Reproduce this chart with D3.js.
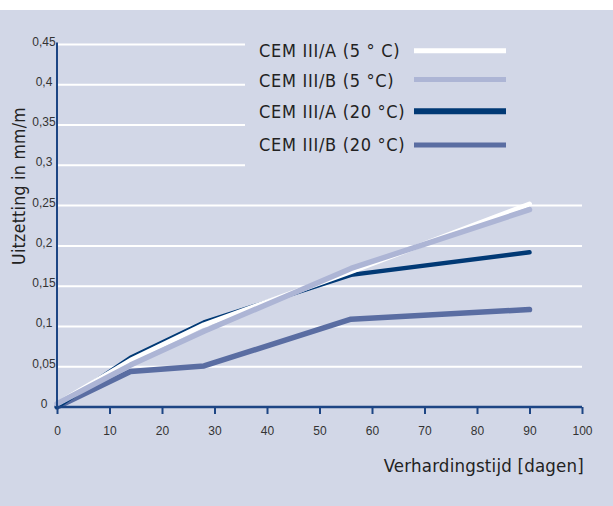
<!DOCTYPE html>
<html><head><meta charset="utf-8">
<script src="https://cdn.jsdelivr.net/npm/d3@7/dist/d3.min.js"></script>
<style>
html,body{margin:0;padding:0;background:#fff;}
svg{display:block;}
</style></head>
<body>
<script>
// ---- data ----
const days = [0, 14, 28, 56, 90];
const seriesNames = ["CEM III/A (5 ° C)", "CEM III/B (5 °C)", "CEM III/A (20 °C)", "CEM III/B (20 °C)"];
const cemIIIA5 = [0.004, 0.058, 0.102, 0.168, 0.252];
const cemIIIB5 = [0.004, 0.052, 0.094, 0.172, 0.245];
const cemIIIA20 = [0, 0.061, 0.105, 0.164, 0.192];
const cemIIIB20 = [0, 0.044, 0.051, 0.109, 0.121];
const xTicks = [0, 10, 20, 30, 40, 50, 60, 70, 80, 90, 100];
const yTicks = [0, 0.05, 0.1, 0.15, 0.2, 0.25, 0.3, 0.35, 0.4, 0.45];
const yTickLabels = ["0", "0,05", "0,1", "0,15", "0,2", "0,25", "0,3", "0,35", "0,4", "0,45"];
const xTitle = "Verhardingstijd [dagen]";
const yTitle = "Uitzetting in mm/m";

const W = 613, H = 506;
const colors = ["#ffffff", "#adb5d5", "#013975", "#5a6da2"];
const widths = [5, 5.5, 4.5, 5.5];
const legWidths = [5, 5, 6, 5];
const values = [cemIIIA5, cemIIIB5, cemIIIA20, cemIIIB20];

const svg = d3.select("body").append("svg").attr("width", W).attr("height", H);
svg.append("rect").attr("x", 0).attr("y", 10).attr("width", W).attr("height", H - 10).attr("fill", "#d2d7e7");

const x = d3.scaleLinear().domain([0, 100]).range([57, 582]);
const y = d3.scaleLinear().domain([0, 0.45]).range([407, 44.5]);

// gridlines
svg.append("g").selectAll("line").data(yTicks.filter(d => d > 0)).join("line")
  .attr("x1", x(0)).attr("x2", d => d >= 0.3 ? 245 : x(100))
  .attr("y1", d => y(d)).attr("y2", d => y(d))
  .attr("stroke", "#fff").attr("stroke-width", 2);

// y labels
svg.append("g").selectAll("text").data(yTicks).join("text")
  .attr("x", 44).attr("y", d => y(d) + 1)
  .attr("text-anchor", "middle")
  .attr("font-family", "Liberation Sans, Arial, sans-serif").attr("font-size", 12)
  .attr("fill", "#333")
  .text((d, i) => yTickLabels[i]);

// lines
const line = d3.line().x((d, i) => x(days[i])).y(d => y(d));
const order = [3, 2, 0, 1];
svg.append("g").selectAll("path").data(order).join("path")
  .attr("d", i => line(values[i]))
  .attr("fill", "none").attr("stroke", i => colors[i]).attr("stroke-width", i => widths[i])
  .attr("stroke-linecap", "round").attr("stroke-linejoin", "round");

// y axis line
svg.append("line").attr("x1", x(0)).attr("x2", x(0)).attr("y1", y(0.45) - 2).attr("y2", y(0))
  .attr("stroke", "#1d4584").attr("stroke-width", 2);

// x axis
const xAxis = svg.append("g").attr("transform", `translate(0,${y(0)})`)
  .call(d3.axisBottom(x).tickValues(xTicks).tickSize(7).tickPadding(12).tickFormat(d3.format("d")));
xAxis.select(".domain").attr("stroke", "#1d4584").attr("stroke-width", 2.5).attr("d", `M${x(0)},0H${x(100)}`);
xAxis.selectAll(".tick line").attr("stroke", "#1d4584").attr("stroke-width", 2);
xAxis.selectAll(".tick text").attr("font-family", "Liberation Sans, Arial, sans-serif").attr("font-size", 12).attr("fill", "#333");

// titles
const titleFont = "DejaVu Sans Condensed, DejaVu Sans, sans-serif";
svg.append("text").attr("x", 584).attr("y", 472).attr("text-anchor", "end")
  .attr("font-family", titleFont).attr("font-size", 18.5).attr("letter-spacing", 0.2)
  .attr("fill", "#222").text(xTitle);
svg.append("text").attr("transform", `translate(25,186) rotate(-90)`).attr("text-anchor", "middle")
  .attr("font-family", titleFont).attr("font-size", 17.5).attr("letter-spacing", 0.3)
  .attr("fill", "#222").text(yTitle);

// legend
const legTextY = [56.7, 86.9, 118.3, 150.5];
const legLineY = [50.7, 79.5, 111.3, 145];
const leg = svg.append("g").selectAll("g").data(seriesNames).join("g");
leg.append("text").attr("x", 259).attr("y", (d, i) => legTextY[i])
  .attr("font-family", titleFont).attr("font-size", 18).attr("letter-spacing", 0.7)
  .attr("fill", "#222").text(d => d);
leg.append("line").attr("x1", 414).attr("x2", 506).attr("y1", (d, i) => legLineY[i]).attr("y2", (d, i) => legLineY[i])
  .attr("stroke", (d, i) => colors[i]).attr("stroke-width", (d, i) => legWidths[i]);
</script>
</body></html>
